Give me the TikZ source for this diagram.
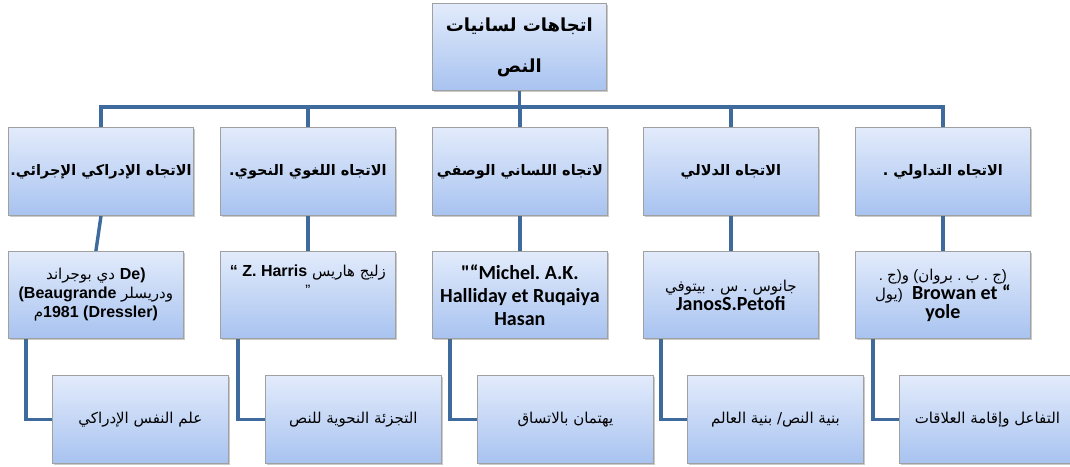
\documentclass[tikz,border=0pt]{standalone}
\usepackage{fontspec}
\usetikzlibrary{shadows,backgrounds}
\TeXXeTstate=1
\frenchspacing
\newfontfamily\arabicfont[Script=Arabic]{DejaVu Sans}
\newfontfamily\calib{Carlito}
\newfontfamily\arial{Liberation Sans}
% Latin pieces of the mixed lines (these lines are laid out left to right, piece by piece)
\newcommand\lat[1]{{\arial\bfseries\fontsize{16}{19}\selectfont #1}}
\newcommand\calw[1]{{\calib\bfseries\fontsize{20}{23}\selectfont #1}}
\newcommand\pun[1]{{\arial\fontsize{15}{19}\selectfont #1}}
\definecolor{boxtop}{HTML}{E2EBFB}
\definecolor{boxbot}{HTML}{A8C3F0}
\definecolor{boxline}{HTML}{A0A0A0}
\definecolor{linkblue}{HTML}{3E6A9E}
\tikzset{
  box/.style={draw=boxline, line width=0.8pt, top color=boxtop, bottom color=boxbot,
    minimum width=175pt, minimum height=88pt, anchor=north west, align=center,
    inner sep=2pt,
    drop shadow={shadow xshift=1.5pt, shadow yshift=-1.5pt, opacity=0.35, fill=black!60}},
  head/.style={font=\arabicfont\bfseries\fontsize{14.5}{18}\selectfont},
  leaf/.style={font=\arabicfont\fontsize{15}{18}\selectfont},
  names/.style={font=\arabicfont\fontsize{15}{19}\selectfont},
  link/.style={draw=linkblue, line width=3.4pt, line join=miter}
}
\begin{document}
\begin{tikzpicture}[x=1pt,y=-1pt]
\useasboundingbox (0,0) rectangle (1070,466);
\clip (0,0) rectangle (1070,466);

% root
\node[box, minimum width=174pt, minimum height=87pt,
      font=\arabicfont\bfseries\fontsize{18}{41}\selectfont] (root) at (432,3)
  {\beginR اتجاهات لسانيات\endR\\\beginR النص\endR};

% first level: the five trends
\node[box, head] (t1) at (8,127)   {\beginR الاتجاه الإدراكي الإجرائي.\endR};
\node[box, head] (t2) at (220,127) {\beginR الاتجاه اللغوي النحوي.\endR};
\node[box, head] (t3) at (432,127) {\beginR لاتجاه اللساني الوصفي\endR};
\node[box, head] (t4) at (643,127) {\beginR الاتجاه الدلالي\endR};
\node[box, head] (t5) at (855,127) {\beginR الاتجاه التداولي .\endR};

% second level: the scholars
\node[box, names, minimum height=87pt] (s1) at (8,251)
  {\beginR دي بوجراند\endR{} \lat{De)}\\
   \lat{(Beaugrande} ودريسلر\\
   م\lat{1981 (Dressler)}};
\node[box, names, minimum height=87pt] (s2) at (220,251)
  {\lat{“ Z. Harris} \beginR زليج هاريس\endR\\
   \pun{”}\\[4pt]\strut};
\node[box, minimum height=87pt, font=\calib\bfseries\fontsize{20}{23}\selectfont] (s3) at (432,251)
  {"“Michel. A.K.\\Halliday et Ruqaiya\\Hasan};
\node[box, names, minimum height=87pt] (s4) at (643,251)
  {\beginR جانوس . س . بيتوفي\endR\\\calw{JanosS.Petofi}};
\node[box, names, minimum height=87pt] (s5) at (855,251)
  {\pun{. }ج\pun{)}و\pun{ (}بروان\pun{ . }ب\pun{ . }ج\pun{)}\\
   يول\pun{)} \calw{\ Browan et “}\\
   \calw{yole}};

% third level: the fields of interest
\node[box, leaf, minimum width=176pt] (f1) at (52,375)  {\beginR علم النفس الإدراكي\endR};
\node[box, leaf, minimum width=176pt] (f2) at (265,375) {\beginR التجزئة النحوية للنص\endR};
\node[box, leaf, minimum width=176pt] (f3) at (477,375) {\beginR يهتمان بالاتساق\endR};
\node[box, leaf, minimum width=176pt] (f4) at (687,375) {\beginR بنية النص/ بنية العالم\endR};
\node[box, leaf, minimum width=176pt] (f5) at (899,375) {\beginR التفاعل وإقامة العلاقات\endR};

% connectors
\begin{scope}[on background layer]
  \coordinate (bus) at (0,107);
  \draw[link] (root.south) -- (root.south |- bus);
  \draw[link] (t1.north) -- (t1.north |- bus) -- (t5.north |- bus) -- (t5.north);
  \foreach \t in {t2,t3,t4} \draw[link] (\t.north) -- (\t.north |- bus);
  \foreach \i in {1,...,5} {
    \draw[link] (t\i.south) -- (s\i.north);
    \draw[link] ([xshift=18pt]s\i.south west) |- (f\i.west);
  }
\end{scope}
\end{tikzpicture}
\end{document}
